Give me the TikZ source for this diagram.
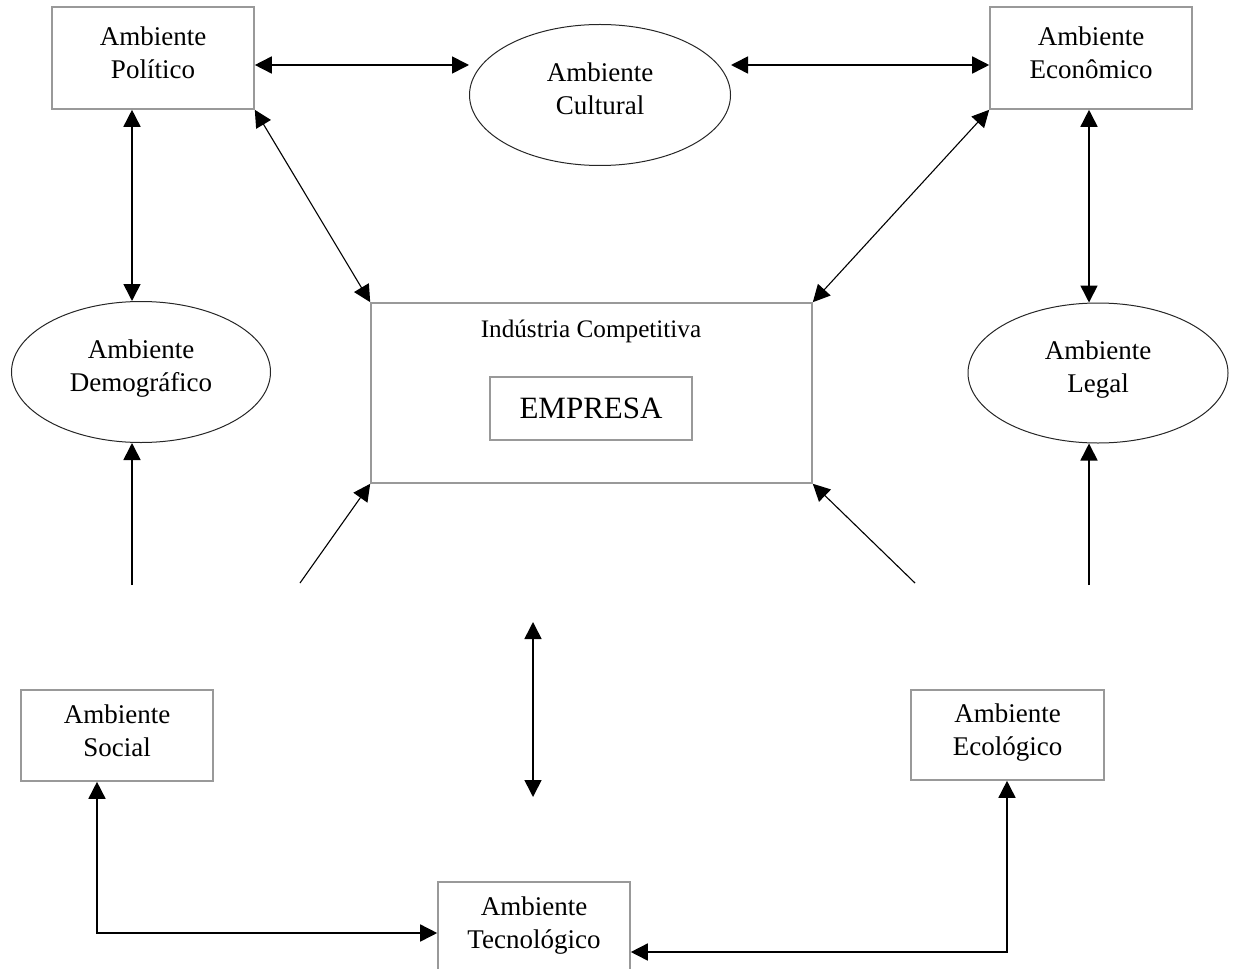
\documentclass[tikz,border=0pt]{standalone}
\usepackage{fontspec}
\setmainfont{Liberation Serif}
\usetikzlibrary{arrows.meta,shapes.geometric}
\tikzset{
  box/.style={draw=black!40,line width=0.8pt,rectangle,align=center,text depth=5pt,
    font=\fontsize{13.5}{16.5}\selectfont},
  oval/.style={draw=black!85,line width=0.5pt,ellipse,align=center,inner sep=0pt,text depth=6pt,
    font=\fontsize{13.5}{16.5}\selectfont},
  link/.style={line width=0.8pt,{Triangle[length=8.5pt,width=8.5pt]}-{Triangle[length=8.5pt,width=8.5pt]}},
  slant/.style={line width=0.55pt},
  onetip/.style={-{Triangle[length=8.5pt,width=8.5pt]}}
}

\begin{document}
\begin{tikzpicture}[x=0.5pt,y=-0.5pt]
  \clip (0,0) rectangle (1235,968);
  \useasboundingbox (0,0) rectangle (1235,968);

  \node[box,minimum width=101pt,minimum height=51pt] (pol) at (153,58) {Ambiente\\Político};
  \node[box,minimum width=101pt,minimum height=51pt] (eco) at (1091,58) {Ambiente\\Econômico};
  \node[oval,minimum width=130.5pt,minimum height=70.5pt] (cul) at (600,95) {Ambiente\\Cultural};
  \node[oval,minimum width=129.5pt,minimum height=70.5pt] (dem) at (141,372) {Ambiente\\Demográfico};
  \node[oval,minimum width=130pt,minimum height=70pt] (leg) at (1098,373) {Ambiente\\Legal};

  \node[box,minimum width=220.5pt,minimum height=90pt] (ind) at (591.5,393) {};
  \node[font=\fontsize{12.6}{15}\selectfont] (indtxt) at (591,331) {Indústria Competitiva};
  \node[box,text depth=,minimum width=101pt,minimum height=31.5pt,font=\fontsize{15.5}{18}\selectfont] (emp) at (591,408.5) {EMPRESA};

  \node[box,minimum width=96pt,minimum height=45.5pt] (soc) at (117,735.5) {Ambiente\\Social};
  \node[box,minimum width=96.5pt,minimum height=45pt] (ecl) at (1007.5,735) {Ambiente\\Ecológico};
  \node[box,minimum width=96pt,minimum height=45.5pt] (tec) at (534,927.5) {Ambiente\\Tecnológico};

  \coordinate (a) at ([yshift=-3.5pt]pol.east);
  \coordinate (b) at ([yshift=-3.5pt]eco.west);
  \draw[link] (a) -- (a -| cul.west);
  \draw[link] (b -| cul.east) -- (b);
  \draw[link] (pol.south -| 132,0) -- (dem.north -| 132,0);
  \draw[link] (eco.south -| 1089,0) -- (leg.north -| 1089,0);
  \draw[link,slant] (pol.south east) -- (ind.north west);
  \draw[link,slant] (eco.south west) -- (ind.north east);

  \coordinate (dl) at (132,585);
  \coordinate (ll) at (1089,585);
  \coordinate (il) at (300,583);
  \coordinate (ir) at (915,583);
  \draw[onetip,line width=0.8pt] (dl) -- (dl |- dem.south);
  \draw[onetip,line width=0.8pt] (ll) -- (ll |- leg.south);
  \draw[onetip,slant] (il) -- (ind.south west);
  \draw[onetip,slant] (ir) -- (ind.south east);

  \coordinate (mt) at (533,622);
  \coordinate (mb) at (533,797);
  \draw[link] (mt) -- (mb);

  \coordinate (c1) at (97,933);
  \coordinate (c2) at (1007,952);
  \draw[link] (c1 |- soc.south) |- (c1 -| tec.west);
  \draw[link] (c2 |- ecl.south) |- (c2 -| tec.east);
\end{tikzpicture}
\end{document}
